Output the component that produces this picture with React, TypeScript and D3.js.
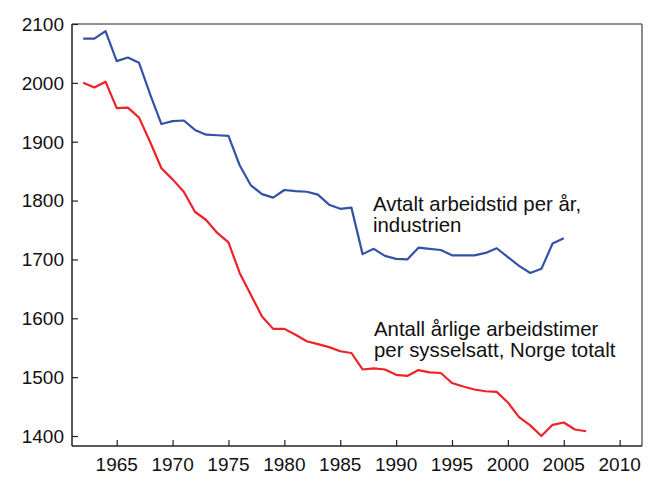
import { useEffect, useRef } from 'react';
import * as d3 from 'd3';

// agreed annual working hours, manufacturing (1962-2005)
const agreedYears = d3.range(1962, 2006);
const agreedHours = [
  2075, 2075, 2088, 2037, 2043, 2034, 1980, 1930, 1935, 1936,
  1920, 1912, 1911, 1910, 1860, 1826, 1811, 1805, 1818, 1816,
  1815, 1810, 1793, 1786, 1788, 1709, 1718, 1706, 1701, 1700,
  1720, 1718, 1716, 1707, 1707, 1707, 1711, 1719, 1704, 1689,
  1677, 1684, 1727, 1736,
];

// actual annual hours per employed person, Norway total (1962-2007)
const actualYears = d3.range(1962, 2008);
const actualHours = [
  2000, 1992, 2002, 1957, 1958, 1941, 1899, 1855, 1836, 1815,
  1781, 1767, 1745, 1729, 1677, 1640, 1603, 1582, 1582, 1572,
  1561, 1556, 1551, 1544, 1541, 1513, 1515, 1513, 1504, 1502,
  1512, 1508, 1507, 1490, 1484, 1479, 1476, 1475, 1457, 1432,
  1418, 1400, 1419, 1423, 1411, 1408,
];

const xTickLabels = [1965, 1970, 1975, 1980, 1985, 1990, 1995, 2000, 2005, 2010];
const yTickLabels = [1400, 1500, 1600, 1700, 1800, 1900, 2000, 2100];

const agreedLabel = ['Avtalt arbeidstid per år,', 'industrien'];
const actualLabel = ['Antall årlige arbeidstimer', 'per sysselsatt, Norge totalt'];

const FONT = '"Liberation Sans", Arial, Helvetica, sans-serif';

export default function App() {
  const ref = useRef<SVGSVGElement>(null);

  useEffect(() => {
    if (!ref.current) return;
    const svg = d3.select(ref.current);
    svg.selectAll('*').remove();

    const left = 72, right = 642, top = 24, bottom = 446;

    const x = d3.scaleLinear().domain([1961, 2012]).range([left, right]);
    const y = d3.scaleLinear().domain([1383, 2100]).range([bottom, top]);

    // frame
    svg.append('line').attr('x1', left).attr('x2', right).attr('y1', top).attr('y2', top)
      .attr('stroke', '#222').attr('stroke-width', 1.2);
    svg.append('line').attr('x1', right).attr('x2', right).attr('y1', top).attr('y2', bottom)
      .attr('stroke', '#666').attr('stroke-width', 1.5);

    // x axis, ticks pointing inward
    const xAxis = svg.append('g').attr('transform', `translate(0,${bottom})`);
    xAxis.call(
      d3.axisTop(x).tickValues(d3.range(1962, 2012)).tickSize(3.5).tickFormat(() => '')
    );
    xAxis.call(d3.axisTop(x).tickValues(xTickLabels).tickSize(6).tickFormat(() => ''));
    xAxis.selectAll('.domain').remove();
    xAxis.selectAll('line').attr('stroke', '#222').attr('stroke-width', 1.2);
    xAxis.append('line').attr('x1', left).attr('x2', right).attr('stroke', '#222').attr('stroke-width', 1.5);
    xAxis.selectAll('.xlab').data(xTickLabels).enter().append('text')
      .attr('class', 'xlab')
      .attr('x', (d) => x(d))
      .attr('y', 24.5)
      .attr('text-anchor', 'middle')
      .style('font-family', FONT)
      .style('font-size', '19px')
      .attr('fill', '#111')
      .text((d) => d);

    // y axis, ticks pointing inward
    const yAxis = svg.append('g').attr('transform', `translate(${left},0)`);
    yAxis.call(
      d3.axisRight(y).tickValues(d3.range(1400, 2100, 20)).tickSize(3.5).tickFormat(() => '')
    );
    yAxis.call(d3.axisRight(y).tickValues(yTickLabels).tickSize(6).tickFormat(() => ''));
    yAxis.selectAll('.domain').remove();
    yAxis.selectAll('line').attr('stroke', '#222').attr('stroke-width', 1.2);
    yAxis.append('line').attr('y1', top).attr('y2', bottom).attr('stroke', '#222').attr('stroke-width', 1.5);
    yAxis.selectAll('.ylab').data(yTickLabels).enter().append('text')
      .attr('class', 'ylab')
      .attr('x', -8)
      .attr('y', (d) => y(d))
      .attr('dy', '0.36em')
      .attr('text-anchor', 'end')
      .style('font-family', FONT)
      .style('font-size', '19px')
      .attr('fill', '#111')
      .text((d) => d);

    // series
    const line = d3.line<[number, number]>().x((d) => x(d[0])).y((d) => y(d[1]));

    svg.append('path')
      .datum(agreedYears.map((yr, i) => [yr, agreedHours[i]] as [number, number]))
      .attr('fill', 'none')
      .attr('stroke', '#3352a6')
      .attr('stroke-width', 2.2)
      .attr('stroke-linejoin', 'round')
      .attr('d', line);

    svg.append('path')
      .datum(actualYears.map((yr, i) => [yr, actualHours[i]] as [number, number]))
      .attr('fill', 'none')
      .attr('stroke', '#ee2228')
      .attr('stroke-width', 2.2)
      .attr('stroke-linejoin', 'round')
      .attr('d', line);

    // annotations, one text element per line
    const addLabel = (lines: string[], tx: number, ty: number) => {
      lines.forEach((s, i) => {
        svg.append('text')
          .attr('x', tx)
          .attr('y', ty + i * 21)
          .style('font-family', FONT)
          .style('font-size', '20.4px')
          .attr('fill', '#111')
          .text(s);
      });
    };
    addLabel(agreedLabel, 373, 211);
    addLabel(actualLabel, 374, 335.5);
  }, []);

  return (
    <svg
      ref={ref}
      width={652}
      height={490}
      style={{ position: 'absolute', left: 0, top: 0, background: '#fff' }}
    />
  );
}
